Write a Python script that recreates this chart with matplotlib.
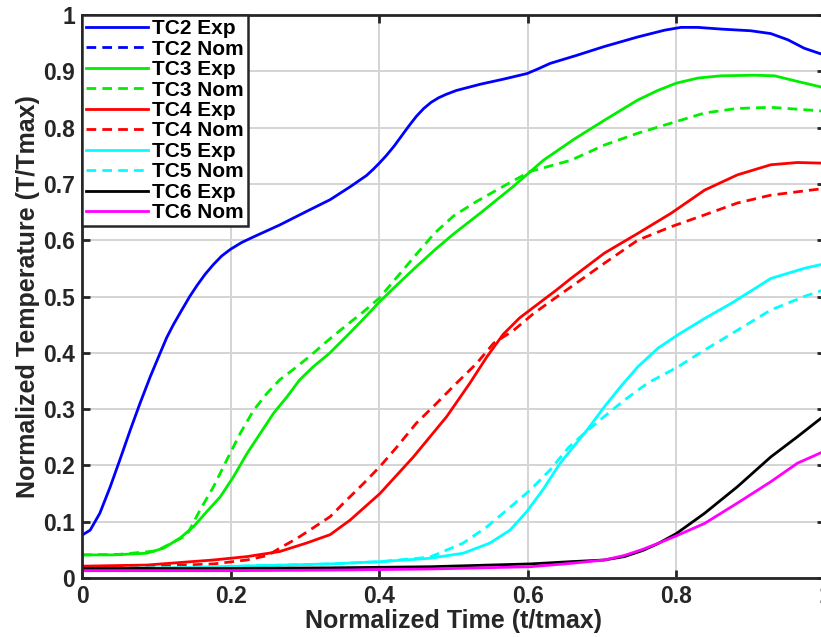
import matplotlib
matplotlib.use('Agg')
import matplotlib.pyplot as plt
from matplotlib.ticker import FuncFormatter

# ---- data (normalized time, normalized temperature) ----
tc2_exp_x = [0.0, 0.011, 0.024, 0.038, 0.051, 0.065, 0.078, 0.092, 0.105, 0.114, 0.123, 0.133,
             0.145, 0.155, 0.166, 0.177, 0.188, 0.200, 0.215, 0.231, 0.266, 0.302, 0.334, 0.361,
             0.383, 0.392, 0.401, 0.410, 0.420, 0.430, 0.440, 0.450, 0.460, 0.470, 0.480, 0.490,
             0.504, 0.536, 0.567, 0.599, 0.615, 0.630, 0.665, 0.703, 0.748, 0.784, 0.806, 0.829,
             0.860, 0.900, 0.927, 0.950, 0.972, 0.992, 1.0]
tc2_exp_y = [0.076, 0.085, 0.115, 0.162, 0.210, 0.263, 0.310, 0.358, 0.399, 0.427, 0.450, 0.473,
             0.500, 0.520, 0.540, 0.557, 0.572, 0.584, 0.596, 0.606, 0.627, 0.651, 0.672, 0.695,
             0.715, 0.726, 0.738, 0.751, 0.767, 0.785, 0.803, 0.820, 0.834, 0.845, 0.853, 0.859,
             0.866, 0.877, 0.886, 0.896, 0.905, 0.914, 0.928, 0.944, 0.961, 0.973, 0.978, 0.978,
             0.975, 0.972, 0.967, 0.956, 0.941, 0.932, 0.929]
tc2_nom_x = []   # listed in the legend, not visible in the plot
tc2_nom_y = []

tc3_exp_x = [0.0, 0.042, 0.087, 0.110, 0.132, 0.150, 0.168, 0.186, 0.204, 0.222, 0.240, 0.258,
             0.276, 0.293, 0.311, 0.333, 0.355, 0.378, 0.400, 0.425, 0.450, 0.475, 0.500, 0.536,
             0.580, 0.621, 0.663, 0.703, 0.748, 0.775, 0.800, 0.829, 0.860, 0.905, 0.932, 0.963,
             0.992, 1.0]
tc3_exp_y = [0.041, 0.041, 0.044, 0.053, 0.071, 0.091, 0.118, 0.144, 0.180, 0.221, 0.257, 0.293,
             0.322, 0.352, 0.375, 0.399, 0.428, 0.459, 0.490, 0.522, 0.553, 0.583, 0.611, 0.648,
             0.695, 0.742, 0.780, 0.813, 0.849, 0.866, 0.879, 0.888, 0.892, 0.893, 0.892, 0.882,
             0.873, 0.870]

tc3_nom_x = [0.0, 0.050, 0.100, 0.141, 0.159, 0.177, 0.195, 0.213, 0.231, 0.249, 0.266, 0.289,
             0.311, 0.332, 0.355, 0.378, 0.400, 0.425, 0.450, 0.475, 0.500, 0.530, 0.558, 0.603,
             0.658, 0.703, 0.748, 0.793, 0.838, 0.882, 0.927, 0.981, 1.0]
tc3_nom_y = [0.041, 0.042, 0.048, 0.076, 0.121, 0.162, 0.210, 0.257, 0.298, 0.328, 0.352, 0.375,
             0.399, 0.423, 0.448, 0.472, 0.497, 0.536, 0.575, 0.613, 0.643, 0.668, 0.689, 0.722,
             0.742, 0.769, 0.790, 0.808, 0.826, 0.834, 0.836, 0.831, 0.829]

tc4_exp_x = [0.0, 0.087, 0.177, 0.222, 0.266, 0.302, 0.334, 0.361, 0.401, 0.446, 0.491, 0.522,
             0.545, 0.567, 0.589, 0.612, 0.639, 0.658, 0.703, 0.748, 0.793, 0.838, 0.882, 0.927,
             0.963, 0.992, 1.0]
tc4_exp_y = [0.021, 0.023, 0.032, 0.038, 0.047, 0.062, 0.077, 0.103, 0.150, 0.215, 0.287, 0.346,
             0.393, 0.433, 0.462, 0.485, 0.512, 0.532, 0.577, 0.612, 0.648, 0.689, 0.716, 0.734,
             0.738, 0.737, 0.737]

tc4_nom_x = [0.0, 0.100, 0.177, 0.222, 0.250, 0.266, 0.289, 0.311, 0.334, 0.352, 0.379, 0.401,
             0.424, 0.450, 0.477, 0.504, 0.531, 0.554, 0.581, 0.608, 0.643, 0.658, 0.703, 0.748,
             0.793, 0.838, 0.882, 0.927, 0.981, 1.0]
tc4_nom_y = [0.020, 0.021, 0.025, 0.032, 0.040, 0.053, 0.070, 0.089, 0.109, 0.133, 0.168, 0.198,
             0.233, 0.275, 0.310, 0.346, 0.381, 0.417, 0.440, 0.470, 0.503, 0.517, 0.559, 0.600,
             0.624, 0.645, 0.666, 0.680, 0.689, 0.692]

tc5_exp_x = [0.0, 0.150, 0.334, 0.401, 0.468, 0.513, 0.549, 0.576, 0.598, 0.621, 0.643, 0.660,
             0.681, 0.703, 0.725, 0.748, 0.775, 0.802, 0.838, 0.874, 0.903, 0.927, 0.972, 0.992, 1.0]
tc5_exp_y = [0.016, 0.019, 0.025, 0.029, 0.035, 0.044, 0.062, 0.085, 0.117, 0.158, 0.203, 0.231,
             0.265, 0.304, 0.340, 0.375, 0.408, 0.432, 0.461, 0.488, 0.512, 0.532, 0.550, 0.556, 0.558]

tc5_nom_x = [0.0, 0.150, 0.334, 0.401, 0.468, 0.513, 0.545, 0.572, 0.603, 0.630, 0.655, 0.676,
             0.703, 0.730, 0.761, 0.802, 0.838, 0.882, 0.927, 0.972, 0.992, 1.0]
tc5_nom_y = [0.016, 0.019, 0.025, 0.029, 0.037, 0.062, 0.091, 0.121, 0.156, 0.192, 0.232, 0.257,
             0.287, 0.316, 0.346, 0.375, 0.405, 0.440, 0.476, 0.500, 0.509, 0.513]

tc6_exp_x = [0.0, 0.200, 0.334, 0.468, 0.603, 0.658, 0.703, 0.730, 0.755, 0.775, 0.800, 0.838,
             0.882, 0.927, 0.963, 0.992, 1.0]
tc6_exp_y = [0.017, 0.017, 0.018, 0.020, 0.025, 0.029, 0.032, 0.038, 0.049, 0.061, 0.079, 0.115,
             0.162, 0.215, 0.251, 0.281, 0.289]

tc6_nom_x = [0.0, 0.200, 0.334, 0.468, 0.603, 0.658, 0.703, 0.730, 0.755, 0.780, 0.800, 0.838,
             0.882, 0.927, 0.963, 0.992, 1.0]
tc6_nom_y = [0.013, 0.013, 0.014, 0.016, 0.020, 0.026, 0.032, 0.040, 0.051, 0.064, 0.075, 0.097,
             0.133, 0.171, 0.204, 0.221, 0.226]

x_ticks = [0, 0.2, 0.4, 0.6, 0.8, 1.0]
y_ticks = [0, 0.1, 0.2, 0.3, 0.4, 0.5, 0.6, 0.7, 0.8, 0.9, 1.0]

series = [
    ("TC2 Exp", tc2_exp_x, tc2_exp_y, '#0000ff', '-'),
    ("TC2 Nom", tc2_nom_x, tc2_nom_y, '#0000ff', '--'),
    ("TC3 Exp", tc3_exp_x, tc3_exp_y, '#00ee00', '-'),
    ("TC3 Nom", tc3_nom_x, tc3_nom_y, '#00ee00', '--'),
    ("TC4 Exp", tc4_exp_x, tc4_exp_y, '#ff0000', '-'),
    ("TC4 Nom", tc4_nom_x, tc4_nom_y, '#ff0000', '--'),
    ("TC5 Exp", tc5_exp_x, tc5_exp_y, '#00ffff', '-'),
    ("TC5 Nom", tc5_nom_x, tc5_nom_y, '#00ffff', '--'),
    ("TC6 Exp", tc6_exp_x, tc6_exp_y, '#000000', '-'),
    ("TC6 Nom", tc6_nom_x, tc6_nom_y, '#ff00ff', '-'),
]

plt.rcParams['font.family'] = ['Liberation Sans', 'DejaVu Sans']
plt.rcParams['font.weight'] = 'bold'

fig = plt.figure(figsize=(8.21, 6.37), dpi=100)
ax = fig.add_axes([82 / 821, 59 / 637, 743 / 821, 563 / 637])

for label, xs, ys, color, ls in series:
    line, = ax.plot(xs, ys, color=color, linestyle=ls, linewidth=2.0, label=label)
    if ls == '--':
        line.set_dashes((3.5, 2.2))

ax.set_xlim(0, 1)
ax.set_ylim(0, 1)
ax.set_xticks(x_ticks)
ax.set_yticks(y_ticks)
fmt = FuncFormatter(lambda v, pos: ('%g' % round(v, 2)))
ax.xaxis.set_major_formatter(fmt)
ax.yaxis.set_major_formatter(fmt)

ax.grid(True, color='#d4d4d4', linewidth=1.4)
ax.set_axisbelow(True)
ax.tick_params(direction='in', length=6, width=2, top=True, right=True,
               labelsize=16.5, pad=5, colors='#262626')
for sp in ax.spines.values():
    sp.set_linewidth(2.0)
    sp.set_color('#262626')

ax.set_xlabel('Normalized Time (t/tmax)', fontsize=18, fontweight='bold', color='#262626', labelpad=1)
ax.set_ylabel('Normalized Temperature (T/Tmax)', fontsize=18, fontweight='bold', color='#262626', labelpad=2)

leg = ax.legend(loc='upper left', bbox_to_anchor=(0, 1), borderaxespad=0, fontsize=15,
                frameon=True, fancybox=False, handlelength=2.95, handletextpad=0.2,
                labelspacing=0.07, borderpad=0.2)
leg.get_frame().set_edgecolor('#262626')
leg.get_frame().set_linewidth(1.8)
leg.get_frame().set_alpha(1)

fig.savefig('out.png', dpi=100)
